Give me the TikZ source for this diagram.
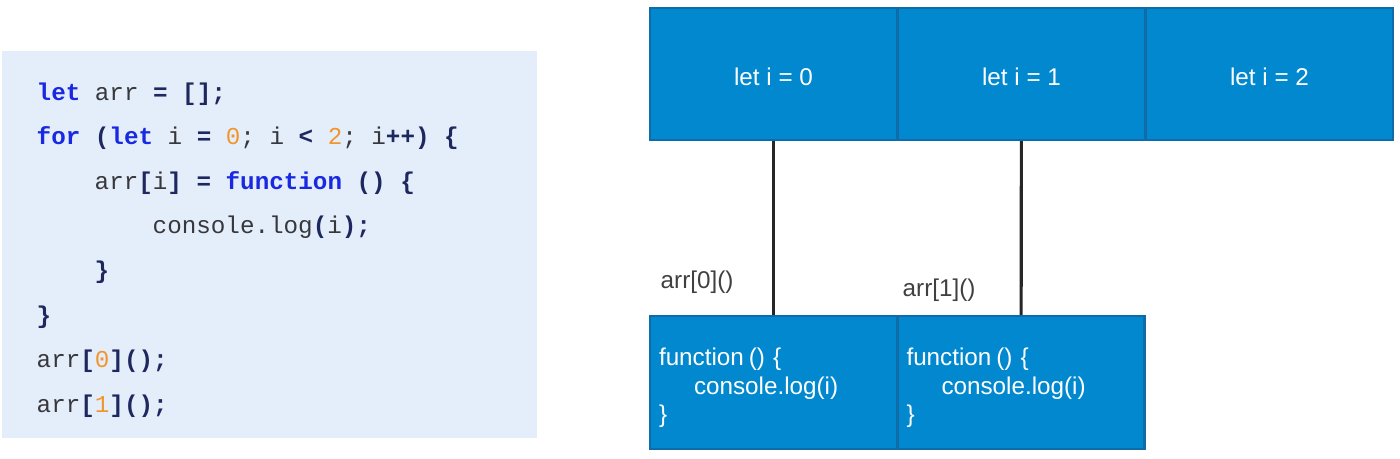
\documentclass[tikz,border=0pt]{standalone}
\usepackage{fontspec}
\setmainfont{Liberation Sans}
\newfontfamily\codefont{Liberation Mono}

\definecolor{codebg}{RGB}{228,238,251}
\definecolor{kwblue}{RGB}{25,40,225}
\definecolor{numorange}{RGB}{240,150,45}
\definecolor{punct}{RGB}{30,40,95}
\definecolor{codegray}{RGB}{55,55,60}
\definecolor{cellblue}{RGB}{2,136,207}
\definecolor{cellborder}{RGB}{14,108,168}

\newcommand{\kw}[1]{\textcolor{kwblue}{\bfseries #1}}
\newcommand{\cnum}[1]{\textcolor{numorange}{#1}}
\newcommand{\pu}[1]{\textcolor{punct}{\bfseries #1}}

\tikzset{
  codepanel/.style={fill=codebg, minimum width=5.35cm, minimum height=3.87cm, inner sep=0pt},
  codeline/.style={anchor=base west, inner sep=0pt, text=codegray,
    font=\codefont\fontsize{6.9}{8}\selectfont},
  cell/.style={draw=cellborder, fill=cellblue, line width=0.6pt, minimum width=2.47cm,
    minimum height=1.32cm, inner sep=0pt, text=white, font=\fontsize{6.9}{8}\selectfont},
  fnbox/.style={cell, minimum height=1.33cm, align=left, text width=2.29cm, inner xsep=0.09cm},
  link/.style={line width=0.9pt, black!85},
  calllabel/.style={anchor=west, inner sep=0pt, text=black!75, font=\fontsize{6.9}{8}\selectfont}
}

\begin{document}
\begin{tikzpicture}
  \useasboundingbox (0,0) rectangle (14,-4.58);
  % code on the left
  \node[codepanel] (code) at (2.695,-2.445) {};
  \node[codeline] (l1) at (0.36,-1.00) {\kw{let} arr \pu{= [];}};
  \node[codeline] (l2) at (0.36,-1.446) {\kw{for} \pu{(}\kw{let} i \pu{=} \cnum{0}; i \pu{<} \cnum{2}; i\pu{++) \{}};
  \node[codeline] (l3) at (0.94,-1.892) {arr\pu{[}i\pu{]} \pu{=} \kw{function} \pu{() \{}};
  \node[codeline] (l4) at (1.52,-2.338) {console.log\pu{(}i\pu{);}};
  \node[codeline] (l5) at (0.94,-2.784) {\pu{\}}};
  \node[codeline] (l6) at (0.36,-3.23) {\pu{\}}};
  \node[codeline] (l7) at (0.36,-3.676) {arr\pu{[}\cnum{0}\pu{]();}};
  \node[codeline] (l8) at (0.36,-4.122) {arr\pu{[}\cnum{1}\pu{]();}};

  % loop scopes
  \foreach \i in {0,1,2} {
    \node[cell] (let\i) at ({7.735+2.48*\i},-0.74) {\rule{0pt}{0.24cm}let i = \i};
  }

  % closures
  \foreach \i in {0,1} {
    \node[fnbox] (fn\i) at ({7.735+2.475*\i},-3.825)
      {\rule{0pt}{0.28cm}function\hspace{0.2em}() \{\\\hspace*{0.35cm}console.log(i)\\\}};
    \draw[link] (let\i) -- (fn\i);
  }
  \node[calllabel] (call0) at (6.60,-2.82) {arr[0]()};
  \node[calllabel] (call1) at (9.02,-2.90) {arr[1]()};
\end{tikzpicture}
\end{document}
